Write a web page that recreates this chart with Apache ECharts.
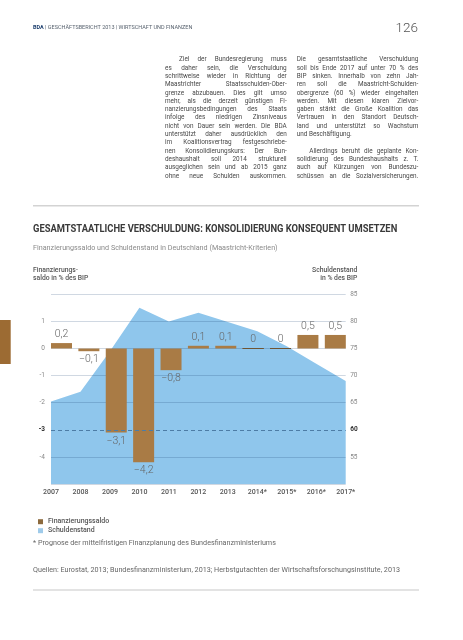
<!DOCTYPE html>
<html><head><meta charset="utf-8">
<script src="https://cdn.jsdelivr.net/npm/echarts@6/dist/echarts.min.js"></script>
<style>
html,body{margin:0;padding:0;background:#fff;}
#chart{position:absolute;left:0;top:0;width:463px;height:640px;}
.col{position:absolute;top:55.2px;font-family:Roboto,sans-serif;font-size:6.4px;line-height:8.33px;color:#484848;}
.col div{text-align:justify;text-align-last:justify;height:8.33px;overflow:visible;}
.col div.l{text-align-last:left;}
.col div.ind{text-indent:14px;}
</style></head>
<body>
<div id="chart"></div>
<div class="col" style="left:165px;width:121.7px;">
<div class="ind">Ziel der Bundesregierung muss</div>
<div>es daher sein, die Verschuldung</div>
<div>schrittweise wieder in Richtung der</div>
<div>Maastrichter Staatsschulden-Ober-</div>
<div>grenze abzubauen. Dies gilt umso</div>
<div>mehr, als die derzeit günstigen Fi-</div>
<div>nanzierungsbedingungen des Staats</div>
<div>infolge des niedrigen Zinsniveaus</div>
<div>nicht von Dauer sein werden. Die BDA</div>
<div>unterstützt daher ausdrücklich den</div>
<div>im Koalitionsvertrag festgeschriebe-</div>
<div>nen Konsolidierungskurs: Der Bun-</div>
<div>deshaushalt soll 2014 strukturell</div>
<div>ausgeglichen sein und ab 2015 ganz</div>
<div>ohne neue Schulden auskommen.</div>
</div>
<div class="col" style="left:296.7px;width:121.6px;">
<div>Die gesamtstaatliche Verschuldung</div>
<div>soll bis Ende 2017 auf unter 70 % des</div>
<div>BIP sinken. Innerhalb von zehn Jah-</div>
<div>ren soll die Maastricht-Schulden-</div>
<div>obergrenze (60 %) wieder eingehalten</div>
<div>werden. Mit diesen klaren Zielvor-</div>
<div>gaben stärkt die Große Koalition das</div>
<div>Vertrauen in den Standort Deutsch-</div>
<div>land und unterstützt so Wachstum</div>
<div class="l">und Beschäftigung.</div>
<div class="l">&nbsp;</div>
<div style="text-indent:12.6px;">Allerdings beruht die geplante Kon-</div>
<div>solidierung des Bundeshaushalts z. T.</div>
<div>auch auf Kürzungen von Bundeszu-</div>
<div>schüssen an die Sozialversicherungen.</div>
</div>
<script>
const years = ['2007','2008','2009','2010','2011','2012','2013','2014*','2015*','2016*','2017*'];
const saldo = [0.2, -0.1, -3.1, -4.2, -0.8, 0.1, 0.1, 0, 0, 0.5, 0.5];
const schulden = [65.2, 67.0, 74.5, 82.5, 80.0, 81.6, 79.9, 78.2, 75.4, 72.2, 69.0];
const leftTicks = [1, 0, -1, -2, -3, -4];
const rightTicks = [85, 80, 75, 70, 65, 60, 55];
const maastrichtLimit = 60;
const defizitLimit = -3;

const FONT = 'Roboto, sans-serif';
const fmt = v => (v < 0 ? '\u2212' : '') + String(Math.abs(v)).replace('.', ',');

const chart = echarts.init(document.getElementById('chart'), null, {renderer: 'canvas'});

const gridTop = 294.3, gridH = 189.7;
const gc = 'rgba(20,60,110,0.2)';

const barData = saldo.map(v => {
  const item = {value: v, label: {position: v < 0 ? 'bottom' : 'top'}};
  if (v === 0) item.itemStyle = {borderColor: '#6e5433', borderWidth: 1};
  return item;
});

const option = {
  animation: false,
  grid: [
    {left: 51, top: gridTop, width: 294.7, height: gridH},
    {left: 47.8, top: gridTop, width: 301.2, height: gridH}
  ],
  xAxis: [
    {type: 'category', gridIndex: 0, data: years, boundaryGap: false,
     axisLine: {show: false}, axisTick: {show: false}, splitLine: {show: false},
     axisLabel: {interval: 0, color: '#555', fontSize: 7, fontWeight: 500, fontFamily: FONT, margin: 4.5}},
    {type: 'category', gridIndex: 1, data: years, boundaryGap: true, show: false}
  ],
  yAxis: [
    {type: 'value', gridIndex: 0, position: 'left', min: -5, max: 2, interval: 1,
     axisLine: {show: false}, axisTick: {show: false}, splitLine: {show: false},
     axisLabel: {margin: 6, fontSize: 6.5, fontFamily: FONT,
       formatter: v => leftTicks.includes(v) ? (v === defizitLimit ? '{b|' + v + '}' : '{n|' + v + '}') : '',
       rich: {n: {color: '#888', fontSize: 6.5, fontFamily: FONT}, b: {color: '#333', fontSize: 6.5, fontWeight: 'bold', fontFamily: FONT}}}},
    {type: 'value', gridIndex: 0, position: 'right', min: 50, max: 85, interval: 5, z: 1.5,
     axisLine: {show: false}, axisTick: {show: false},
     splitLine: {show: true, lineStyle: {width: 1, color: [gc, gc, 'rgba(0,0,0,0)', gc, gc, gc, gc, gc]}},
     axisLabel: {margin: 4.5, fontSize: 6.5, fontFamily: FONT,
       formatter: v => rightTicks.includes(v) ? (v === maastrichtLimit ? '{b|' + v + '}' : '{n|' + v + '}') : '',
       rich: {n: {color: '#888', fontSize: 6.5, fontFamily: FONT}, b: {color: '#333', fontSize: 6.5, fontWeight: 'bold', fontFamily: FONT}}}},
    {type: 'value', gridIndex: 1, min: -5, max: 2, interval: 1, show: false}
  ],
  legend: {
    orient: 'vertical', left: 33, top: 512.2, itemWidth: 5, itemHeight: 5, itemGap: 0,
    selectedMode: false,
    textStyle: {fontSize: 7, color: '#555', fontWeight: 500, fontFamily: FONT, lineHeight: 9},
    data: [
      {name: 'Finanzierungssaldo', icon: 'rect', itemStyle: {color: '#8c6a3e'}},
      {name: 'Schuldenstand', icon: 'rect', itemStyle: {color: '#9fcbea'}}
    ]
  },
  series: [
    {name: 'Schuldenstand', type: 'line', xAxisIndex: 0, yAxisIndex: 1, data: schulden,
     symbol: 'none', z: 1, lineStyle: {width: 0}, itemStyle: {color: '#8fc6ec'},
     areaStyle: {color: '#8fc6ec', opacity: 1, origin: 'start'},
     markLine: {silent: true, symbol: 'none', animation: false, label: {show: false},
       lineStyle: {type: [4, 3], color: '#4d7ca5', width: 1},
       data: [{yAxis: maastrichtLimit}]}},
    {name: 'Finanzierungssaldo', type: 'bar', xAxisIndex: 1, yAxisIndex: 2, data: barData,
     barWidth: 21, z: 3, itemStyle: {color: '#a97b45'},
     label: {show: true, distance: 3, fontSize: 10.5, color: '#666', fontFamily: FONT, fontWeight: 300,
       formatter: p => fmt(p.value)}}
  ],
  graphic: [
    {type: 'text', left: 33, top: 24.6, style: {text: '{b|BDA} | GESCHÄFTSBERICHT 2013 | WIRTSCHAFT UND FINANZEN',
      font: '5.5px ' + FONT, fill: '#5a6470',
      rich: {b: {font: 'bold 5.5px ' + FONT, fill: '#1d3f6e'}}}},
    {type: 'text', x: 418, y: 28.3, style: {text: '126', font: '300 13.5px ' + FONT, fill: '#555',
      textAlign: 'right', textVerticalAlign: 'middle'}},
    {type: 'line', shape: {x1: 33, y1: 205.7, x2: 419, y2: 205.7}, style: {stroke: '#d3d3d3', lineWidth: 1.6}},
    {type: 'text', x: 33, y: 229.3, scaleX: 0.938, style: {text: 'GESAMTSTAATLICHE VERSCHULDUNG: KONSOLIDIERUNG KONSEQUENT UMSETZEN',
      font: 'bold 10px ' + FONT, fill: '#3a3a3a', textVerticalAlign: 'middle'}},
    {type: 'text', x: 33, y: 248, style: {text: 'Finanzierungssaldo und Schuldenstand in Deutschland (Maastricht-Kriterien)',
      font: '7.2px ' + FONT, fill: '#8a8a8a', textVerticalAlign: 'middle'}},
    {type: 'text', x: 33, y: 274.5, style: {text: 'Finanzierungs-\nsaldo in % des BIP',
      font: '500 6.8px ' + FONT, fill: '#555', lineHeight: 7.6, textVerticalAlign: 'middle'}},
    {type: 'text', x: 357.3, y: 274.5, style: {text: 'Schuldenstand\nin % des BIP',
      font: '500 6.8px ' + FONT, fill: '#555', lineHeight: 7.6, textAlign: 'right', textVerticalAlign: 'middle'}},
    {type: 'rect', shape: {x: 0, y: 320, width: 10.7, height: 44}, style: {fill: '#9c6b33'}},
    {type: 'text', x: 33, y: 543.3, style: {text: '* Prognose der mittelfristigen Finanzplanung des Bundesfinanzministeriums',
      font: '7.2px ' + FONT, fill: '#666', textVerticalAlign: 'middle'}},
    {type: 'text', x: 33, y: 570.3, style: {text: 'Quellen: Eurostat, 2013; Bundesfinanzministerium, 2013; Herbstgutachten der Wirtschaftsforschungsinstitute, 2013',
      font: '7.2px ' + FONT, fill: '#666', textVerticalAlign: 'middle'}},
    {type: 'line', shape: {x1: 33, y1: 590, x2: 419, y2: 590}, style: {stroke: '#dadada', lineWidth: 1.6}}
  ]
};
chart.setOption(option);
</script>
</body></html>
